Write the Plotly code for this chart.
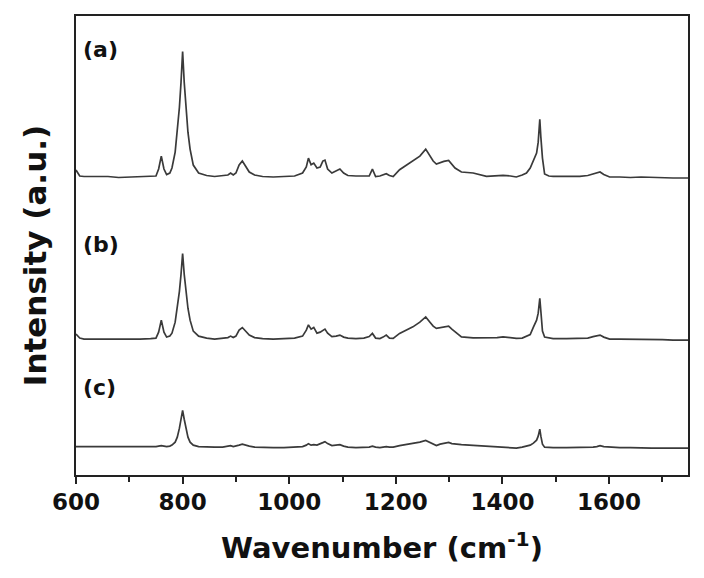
import plotly.graph_objects as go

wavenumber = [
    600, 603, 607, 615, 630, 645, 660, 680, 700, 720, 740,
    750, 755, 760, 765, 770, 776, 780, 786, 790, 794, 797, 800, 803, 806, 810, 814, 820, 830, 845,
    860, 875, 885, 890, 895, 900, 906, 912, 918, 925, 935, 950, 970, 990, 1010,
    1025, 1032, 1036, 1041, 1046, 1052, 1058, 1063, 1067, 1072, 1080, 1088, 1095, 1102, 1110,
    1125, 1140, 1150, 1156, 1162, 1170, 1176, 1182, 1188, 1195, 1207, 1220, 1232, 1245, 1256,
    1264, 1270, 1276, 1283, 1290, 1299, 1305, 1311, 1323, 1345, 1370, 1390, 1401, 1415, 1426,
    1437, 1445, 1452, 1458, 1464, 1467, 1470, 1472, 1475, 1479, 1487, 1495, 1520, 1545, 1560,
    1570, 1577, 1583, 1590, 1601, 1620, 1640, 1660, 1680, 1700, 1720, 1748,
]

spectrum_a = [
    7, 4, 1, 0.5, 0.5, 0, 0.5, -0.5, 0, 0.5, 0.5,
    1, 8, 21, 8, 2.5, 4, 9, 25, 45, 70, 95, 126, 95, 70, 45, 28, 12, 4, 1.5,
    0.5, 1, 2, 4, 2, 4, 12, 16, 11, 5, 2, 0.5, 0, 0.5, 1,
    4, 10, 19, 12.3, 14, 9, 10, 16, 17, 8, 4, 6, 8, 4, 1.5,
    1, 1, 1, 8, 0.5, 1, 2.5, 3.3, 1.5, 0.5, 7.3, 12, 16.3, 21, 28,
    20.7, 16, 13, 14.5, 15.7, 16.7, 13, 9, 5, 4, 0.7, 1.5, 1.7, 1, 0,
    2, 4, 9, 16, 24, 35, 58, 40, 19, 3, 1, 0.7, 0.7, 0.7, 1.5,
    3, 4, 5, 2.5, 0, 0, -0.5, 0, -0.5, -1, -1, -1,
]

spectrum_b = [
    5, 3, 1, 0, 0, 0, 0, -0.5, 0, 0, 0.5,
    1, 7, 19, 7, 2, 3, 6, 17, 31, 48, 65, 86, 65, 48, 31, 19, 8, 3, 1,
    0, 0.5, 1.5, 3, 1.5, 3, 9, 11.6, 8, 4, 1.5, 0.5, 0, 0.5, 1,
    3, 9, 14.3, 10, 11.7, 6, 7, 9, 10, 6, 2.5, 3, 4, 2, 1,
    0.5, 1, 2.5, 5.7, 1, 0.5, 2, 4, 1, 0.7, 5.7, 9, 12.3, 17, 22.3,
    17, 13, 10.7, 11.5, 12.3, 13, 10, 7.3, 2.3, 1.3, 1, 1.5, 2.3, 1, 0.7,
    1, 2.5, 4.5, 12, 19, 26, 41, 28, 8, 2, 1, 0.5, 0.5, 0.5, 1,
    2.5, 3.5, 4, 2, 0, 0, 0, -0.5, 0, -0.5, -1, -1,
]

spectrum_c = [
    1.5, 1.5, 1.5, 1, 1, 1, 1, 1, 1, 1, 1.5,
    1.5, 2, 2.5, 2, 1.5, 2, 3, 6, 11, 20, 29, 38, 29, 20, 11, 6, 3, 1.5, 1,
    1, 1, 1.5, 2.5, 1.5, 2, 3, 4, 3, 2, 1, 0.5, 0.5, 0.5, 1,
    1.5, 3, 4.5, 3, 3.5, 3, 4, 5.5, 6.5, 4.5, 2.5, 3, 3.5, 2, 1,
    0.5, 0.5, 1, 2, 1, 0.5, 1, 1.5, 1, 1, 2.5, 3.5, 4.5, 6, 7.7,
    5.5, 4, 2.5, 4, 5, 5.7, 4.5, 4, 3.5, 2.7, 2, 1, 0.5, 0, 0,
    1, 2, 3, 5, 8, 12, 19, 12, 4, 1, 0.5, 0.5, 0.5, 0.5, 0.5,
    1, 1.5, 2.5, 1.5, 1, 0.5, 0.5, 0, 0, 0, 0, 0,
]

series_names = ["(a)", "(b)", "(c)"]
series_offsets = [299.3, 136.5, 27]
label_y = [427, 232, 88]

x_ticks = [600, 800, 1000, 1200, 1400, 1600]

fig = go.Figure()
for name, spec, off in zip(series_names, [spectrum_a, spectrum_b, spectrum_c], series_offsets):
    fig.add_trace(go.Scatter(
        x=wavenumber, y=[v + off for v in spec], mode="lines", name=name,
        line=dict(color="#3a3a3a", width=1.7), showlegend=False,
    ))

for name, ly in zip(series_names, label_y):
    fig.add_annotation(x=0.008, xref="paper", y=ly, yref="y", text="<b>" + name + "</b>",
                       showarrow=False, xanchor="left", yanchor="middle",
                       font=dict(family="DejaVu Sans", size=22, color="#111"))

fig.add_annotation(x=-0.067, xref="paper", y=0.479, yref="paper",
                   text="<b>Intensity (a.u.)</b>", textangle=-90, showarrow=False,
                   xanchor="center", yanchor="middle",
                   font=dict(family="DejaVu Sans", size=31, color="#111"))

fig.update_layout(
    width=696, height=570,
    margin=dict(l=68, r=16, t=6, b=103),
    paper_bgcolor="white", plot_bgcolor="white",
    xaxis=dict(
        range=[600, 1748], tickvals=x_ticks, ticktext=[str(t) for t in x_ticks],
        ticks="outside", ticklen=7, tickwidth=2, tickcolor="#222",
        ticklabelstandoff=-2,
        minor=dict(dtick=100, tick0=600, ticks="outside", ticklen=5, tickwidth=1.5, tickcolor="#222"),
        showline=True, linecolor="#222", linewidth=2, mirror=True,
        showgrid=False, zeroline=False,
        tickfont=dict(family="DejaVu Sans", size=23, color="#111", weight="bold"),
        title=dict(text="<b>Wavenumber (cm<sup>-1</sup>)</b>", standoff=24,
                   font=dict(family="DejaVu Sans", size=29, color="#111")),
    ),
    yaxis=dict(
        range=[0, 461], showticklabels=False, ticks="",
        showline=True, linecolor="#222", linewidth=2, mirror=True,
        showgrid=False, zeroline=False,
    ),
)

fig.write_html("out.html")
